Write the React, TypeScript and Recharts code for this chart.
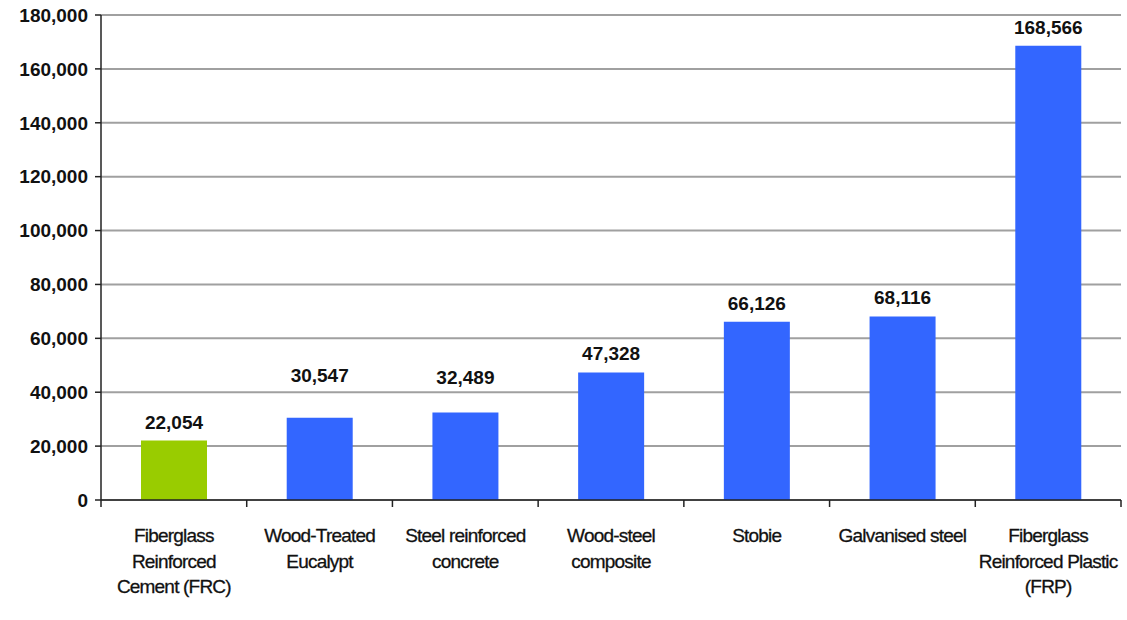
import { BarChart, Bar, XAxis, YAxis, CartesianGrid, LabelList, Cell } from "recharts";

const categories = [
  "Fiberglass\nReinforced\nCement (FRC)",
  "Wood-Treated\nEucalypt",
  "Steel reinforced\nconcrete",
  "Wood-steel\ncomposite",
  "Stobie",
  "Galvanised steel",
  "Fiberglass\nReinforced Plastic\n(FRP)",
];
const costs = [22054, 30547, 32489, 47328, 66126, 68116, 168566];
const yTicks = [0, 20000, 40000, 60000, 80000, 100000, 120000, 140000, 160000, 180000];

const GREEN = "#99cc00";
const BLUE = "#3366ff";
const FONT = "'Liberation Sans', Arial, sans-serif";

const W = 1127;
const H = 620;
const LEFT = 101;
const RIGHT = 6;
const HALF_BAND = (W - LEFT - RIGHT) / categories.length / 2;

// the original Excel chart left a couple of labels floating higher
const labelLift: Record<number, number> = { 1: 24, 2: 16 };

const data = categories.map((name, i) => ({ name, cost: costs[i] }));

function CategoryTick(props: any) {
  const { x, y, payload, index } = props;
  const lines = String(payload.value).split("\n");
  return (
    <g>
      <line x1={x - HALF_BAND} x2={x - HALF_BAND} y1={y} y2={y + 7} stroke="#222" strokeWidth={1.5} />
      {index === categories.length - 1 && (
        <line x1={x + HALF_BAND} x2={x + HALF_BAND} y1={y} y2={y + 7} stroke="#222" strokeWidth={1.5} />
      )}
      <text
        textAnchor="middle"
        fontFamily={FONT}
        fontSize={19}
        letterSpacing={-0.8}
        fill="#111"
        stroke="#111"
        strokeWidth={0.3}
      >
        {lines.map((ln, i) => (
          <tspan key={i} x={x} y={y + 42 + i * 25.5}>
            {ln}
          </tspan>
        ))}
      </text>
    </g>
  );
}

function ValueLabel(props: any) {
  const { x, y, width, value, index } = props;
  const lift = labelLift[index] || 0;
  return (
    <text
      x={x + width / 2}
      y={y - 12 - lift}
      textAnchor="middle"
      fontFamily={FONT}
      fontWeight="bold"
      fontSize={19}
      fill="#111"
    >
      {Number(value).toLocaleString("en-US")}
    </text>
  );
}

export default function App() {
  return (
    <div style={{ position: "absolute", left: 0, top: 0, width: W, height: H, background: "#fff" }}>
      <BarChart
        width={W}
        height={H}
        data={data}
        margin={{ top: 15, right: RIGHT, bottom: 0, left: 0 }}
      >
        <CartesianGrid vertical={false} stroke="#a0a0a0" strokeWidth={2} />
        <XAxis
          dataKey="name"
          interval={0}
          tickLine={false}
          tickSize={0}
          tickMargin={0}
          tick={<CategoryTick />}
          axisLine={{ stroke: "#222", strokeWidth: 1.5 }}
          height={120}
        />
        <YAxis
          width={LEFT}
          domain={[0, 180000]}
          ticks={yTicks}
          interval={0}
          tickFormatter={(v: number) => v.toLocaleString("en-US")}
          tick={{ fontFamily: FONT, fontWeight: "bold", fontSize: 19, fill: "#111" }}
          tickLine={{ stroke: "#222", strokeWidth: 1.5 }}
          tickSize={6}
          tickMargin={7}
          axisLine={{ stroke: "#222", strokeWidth: 1.5 }}
        />
        <Bar dataKey="cost" barSize={66} isAnimationActive={false}>
          {data.map((d, i) => (
            <Cell key={d.name} fill={i === 0 ? GREEN : BLUE} />
          ))}
          <LabelList dataKey="cost" content={<ValueLabel />} />
        </Bar>
      </BarChart>
    </div>
  );
}
